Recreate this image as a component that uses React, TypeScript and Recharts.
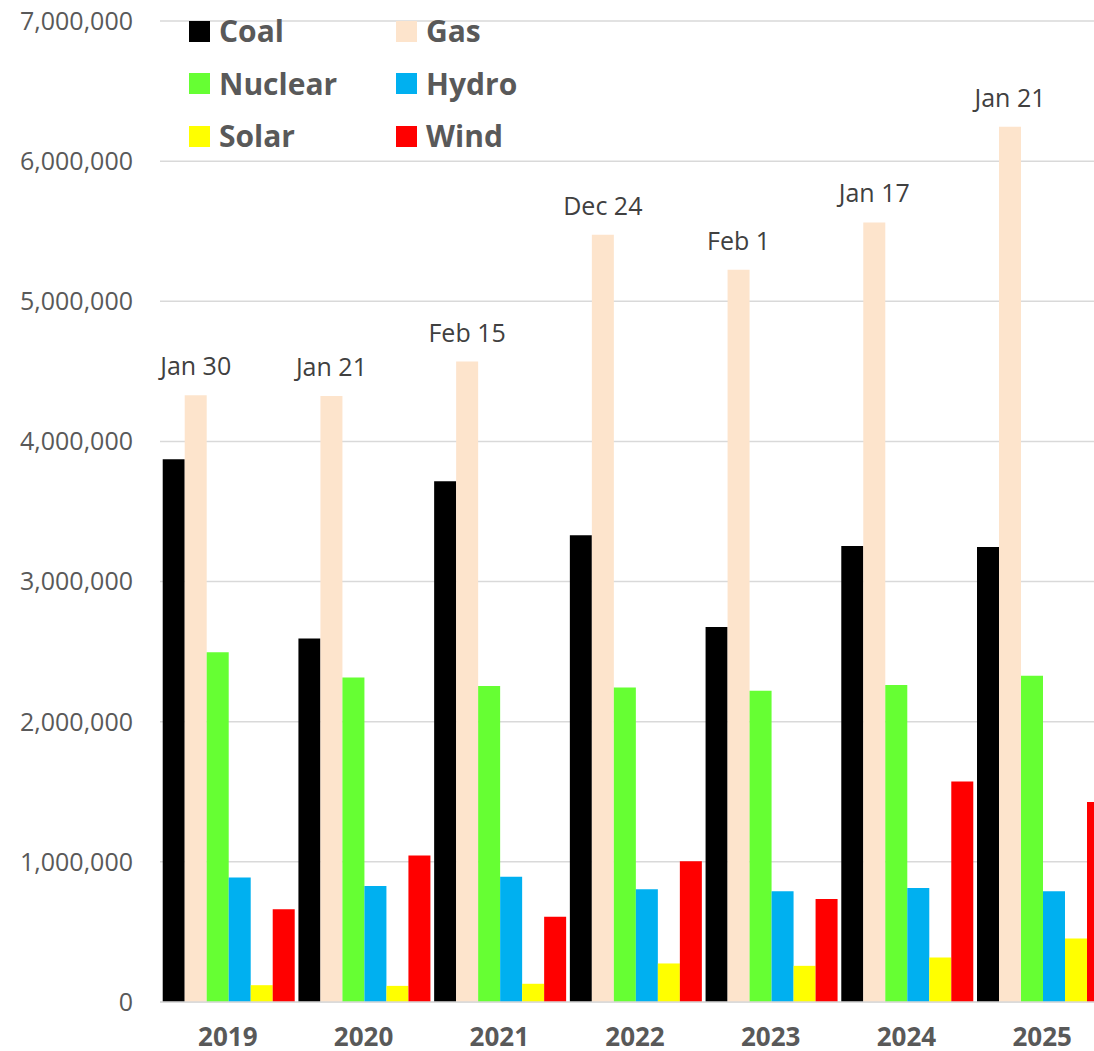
import { BarChart, Bar, XAxis, YAxis, CartesianGrid, Legend, LabelList } from 'recharts';

const years = ['2019', '2020', '2021', '2022', '2023', '2024', '2025'];
const peakDates = ['Jan 30', 'Jan 21', 'Feb 15', 'Dec 24', 'Feb 1', 'Jan 17', 'Jan 21'];

const coal = [3872000, 2593000, 3715000, 3330000, 2675000, 3254000, 3246000];
const gas = [4330000, 4325000, 4570000, 5474000, 5225000, 5563000, 6245000];
const nuclear = [2495000, 2316000, 2255000, 2245000, 2221000, 2262000, 2328000];
const hydro = [888000, 828000, 893000, 805000, 790000, 814000, 790000];
const solar = [120000, 115000, 130000, 275000, 258000, 318000, 454000];
const wind = [661000, 1045000, 608000, 1005000, 735000, 1573000, 1427000];

const yTicks = [0, 1000000, 2000000, 3000000, 4000000, 5000000, 6000000, 7000000];

const series = [
  { key: 'Coal', color: '#000000' },
  { key: 'Gas', color: '#FDE4CC' },
  { key: 'Nuclear', color: '#66FF33' },
  { key: 'Hydro', color: '#00B0F0' },
  { key: 'Solar', color: '#FFFF00' },
  { key: 'Wind', color: '#FF0000' },
];

const chartData = years.map((year, i) => ({
  year,
  date: peakDates[i],
  Coal: coal[i],
  Gas: gas[i],
  Nuclear: nuclear[i],
  Hydro: hydro[i],
  Solar: solar[i],
  Wind: wind[i],
}));

const FONT = '"Open Sans", "Liberation Sans", sans-serif';

const renderLegend = () => (
  <div
    style={{
      display: 'grid',
      gridTemplateColumns: '207px 207px',
      gridAutoRows: '52.5px',
      fontFamily: FONT,
      fontWeight: 700,
      fontSize: 30,
      color: '#595959',
    }}
  >
    {series.map((s) => (
      <div key={s.key} style={{ display: 'flex', alignItems: 'center', height: 52.5 }}>
        <span style={{ width: 21, height: 21, background: s.color, display: 'inline-block', marginRight: 9 }} />
        <span style={{ lineHeight: 1 }}>{s.key}</span>
      </div>
    ))}
  </div>
);

// peak date above each gas bar, kept on one line
const renderDate = (props: any) => {
  const { x, y, width, value } = props;
  return (
    <text
      x={Number(x) + Number(width) / 2}
      y={Number(y) - 20}
      textAnchor="middle"
      fill="#404040"
      fontSize={25}
      fontFamily={FONT}
    >
      {value}
    </text>
  );
};

const App = () => {
  return (
    <div
      style={{
        position: 'absolute',
        left: 0,
        top: 0,
        width: 1094,
        height: 1051,
        overflow: 'hidden',
        background: '#fff',
      }}
    >
      <BarChart
        width={1120}
        height={1051}
        data={chartData}
        margin={{ top: 21, right: 10, left: 0, bottom: 0 }}
        barCategoryGap="2%"
        barGap={0}
        style={{ fontFamily: FONT }}
      >
        <CartesianGrid vertical={false} stroke="#d9d9d9" strokeWidth={1.5} />
        <XAxis
          dataKey="year"
          height={49}
          axisLine={{ stroke: '#d9d9d9', strokeWidth: 1.5 }}
          tickLine={false}
          tickSize={0}
          tickMargin={26}
          tick={{ fill: '#595959', fontSize: 26, fontWeight: 700 }}
        />
        <YAxis
          width={160}
          domain={[0, 7000000]}
          ticks={yTicks}
          axisLine={false}
          tickLine={false}
          tickSize={0}
          tickMargin={27}
          tick={{ fill: '#595959', fontSize: 25 }}
          tickFormatter={(v: number) => v.toLocaleString('en-US')}
        />
        <Legend
          content={renderLegend}
          layout="horizontal"
          verticalAlign="middle"
          align="center"
          wrapperStyle={{ position: 'absolute', top: 5, left: 189, width: 420 }}
        />
        {series.map((s) => (
          <Bar key={s.key} dataKey={s.key} fill={s.color} isAnimationActive={false}>
            {s.key === 'Gas' && <LabelList dataKey="date" content={renderDate} />}
          </Bar>
        ))}
      </BarChart>
    </div>
  );
};

export default App;
